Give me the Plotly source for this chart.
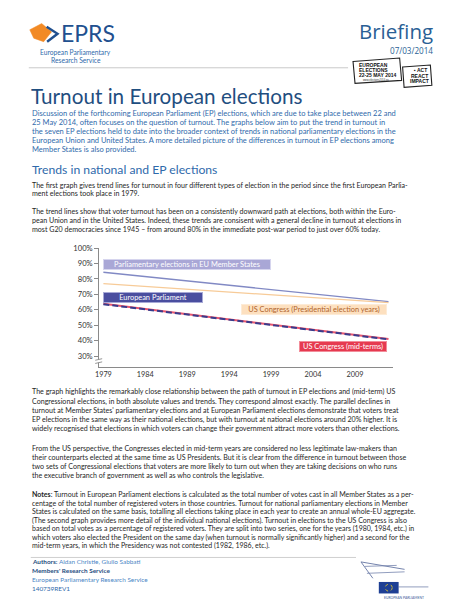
import plotly.graph_objects as go

W, H = 474, 613

# ---------------- data ----------------
years = [1979, 2013]
eu_national = [84.3, 65.2]          # Parliamentary elections in EU Member States
us_presidential = [76.9, 64.6]      # US Congress (Presidential election years)
us_midterm = [63.9, 41.0]           # US Congress (mid-terms)
ep_turnout = [63.6, 40.8]           # European Parliament
x_tick_years = [1979, 1984, 1989, 1994, 1999, 2004, 2009]
y_tick_values = [30, 40, 50, 60, 70, 80, 90, 100]
y_tick_labels = ["30%", "40%", "50%", "60%", "70%", "80%", "90%", "100%"]

series_labels = ["Parliamentary elections in EU Member States", "European Parliament",
                 "US Congress (Presidential election years)", "US Congress (mid-terms)"]

intro_lines = [
    "Discussion of the forthcoming European Parliament (EP) elections, which are due to take place between 22 and",
    "25 May 2014, often focuses on the question of turnout. The graphs below aim to put the trend in turnout in",
    "the seven EP elections held to date into the broader context of trends in national parliamentary elections in the",
    "European Union and United States. A more detailed picture of the differences in turnout in EP elections among",
    "Member States is also provided.",
]
p1_lines = [
    "The first graph gives trend lines for turnout in four different types of election in the period since the first European Parlia-",
    "ment elections took place in 1979.",
]
p2_lines = [
    "The trend lines show that voter turnout has been on a consistently downward path at elections, both within the Euro-",
    "pean Union and in the United States. Indeed, these trends are consisent with a general decline in turnout at elections in",
    "most G20 democracies since 1945 \u2013 from around 80% in the immediate post-war period to just over 60% today.",
]
p3_lines = [
    "The graph highlights the remarkably close relationship between the path of turnout in EP elections and (mid-term) US",
    "Congressional elections, in both absolute values and trends. They correspond almost exactly. The parallel declines in",
    "turnout at Member States' parliamentary elections and at European Parliament elections demonstrate that voters treat",
    "EP elections in the same way as their national elections, but with turnout at national elections around 20% higher. It is",
    "widely recognised that elections in which voters can change their government attract more voters than other elections.",
]
p4_lines = [
    "From the US perspective, the Congresses elected in mid-term years are considered no less legitimate law-makers than",
    "their counterparts elected at the same time as US Presidents. But it is clear from the difference in turnout between those",
    "two sets of Congressional elections that voters are more likely to turn out when they are taking decisions on who runs",
    "the executive branch of government as well as who controls the legislative.",
]
notes_lines = [
    "<b>Notes</b>: Turnout in European Parliament elections is calculated as the total number of votes cast in all Member States as a per-",
    "centage of the total number of registered voters in those countries. Turnout for national parliamentary elections in Member",
    "States is calculated on the same basis, totalling all elections taking place in each year to create an annual whole-EU aggregate.",
    "(The second graph provides more detail of the individual national elections). Turnout in elections to the US Congress is also",
    "based on total votes as a percentage of registered voters. They are split into two series, one for the years (1980, 1984, etc.) in",
    "which voters also elected the President on the same day (when turnout is normally significantly higher) and a second for the",
    "mid-term years, in which the Presidency was not contested (1982, 1986, etc.).",
]

# ---------------- helpers ----------------
def px(x):
    return x / W

def py(y):
    return 1 - y / H

FONT = "Lato"
BODY = "#262626"
BLUE = "#2f6aab"
NAVY = "#1f4e7f"

annotations = []
shapes = []

def text(x, y, s, size, color, anchor="left", family=FONT, yanchor="middle"):
    annotations.append(dict(x=px(x), y=py(y), xref="paper", yref="paper", text=s,
                            showarrow=False, xanchor=anchor, yanchor=yanchor, borderpad=0,
                            font=dict(family=family, size=size, color=color)))

def para(lines, y0, step, size, color):
    for i, s in enumerate(lines):
        text(27, y0 + i * step, s, size, color)

def line(x0, y0, x1, y1, color, width=1):
    shapes.append(dict(type="line", xref="paper", yref="paper", x0=px(x0), y0=py(y0),
                       x1=px(x1), y1=py(y1), line=dict(color=color, width=width), layer="above"))

def path(pts, fill, color, width=1, closed=True):
    d = "M " + " L ".join(f"{px(a):.5f},{py(b):.5f}" for a, b in pts) + (" Z" if closed else "")
    shapes.append(dict(type="path", xref="paper", yref="paper", path=d,
                       fillcolor=fill, line=dict(color=color, width=width), layer="above"))

# ---------------- figure ----------------
fig = go.Figure()
fig.add_trace(go.Scatter(x=years, y=eu_national, mode="lines", line=dict(color="#8189c4", width=1.3),
                         name=series_labels[0], hoverinfo="skip"))
fig.add_trace(go.Scatter(x=years, y=us_presidential, mode="lines", line=dict(color="#f7cb98", width=1.3),
                         name=series_labels[2], hoverinfo="skip"))
fig.add_trace(go.Scatter(x=years, y=us_midterm, mode="lines", line=dict(color="#e9566f", width=2),
                         name=series_labels[3], hoverinfo="skip"))
fig.add_trace(go.Scatter(x=years, y=ep_turnout, mode="lines",
                         line=dict(color="#383c8c", width=2, dash="6px,3px"),
                         name=series_labels[1], hoverinfo="skip"))

# series labels (boxes) in data coordinates
def box(xv, yv, s, w, bg, fg, border, anchor):
    annotations.append(dict(x=xv, y=yv, xref="x", yref="y", text=s, showarrow=False,
                            xanchor=anchor, yanchor="middle", width=w, height=8.5, align="center",
                            bgcolor=bg, bordercolor=border, borderwidth=1, borderpad=0,
                            font=dict(family=FONT, size=7.4, color=fg)))

box(1978.9, 89.1, series_labels[0], 166, "#a9a7d6", "#ffffff", "#d6d5ee", "left")
box(1979.0, 67.9, series_labels[1], 98, "#4a4e9f", "#ffffff", "#a7a9d6", "left")
box(2012.8, 60.0, series_labels[2], 144, "#fde0bf", "#b0642c", "#fdebd6", "right")
box(2012.8, 36.5, series_labels[3], 86, "#e63a50", "#ffffff", "#f28d9a", "right")

# axis break marks on y axis
shapes.append(dict(type="rect", xref="paper", yref="paper", x0=px(94), x1=px(98),
                   y0=py(360.6), y1=py(357.4), fillcolor="white", line=dict(width=0), layer="above"))
line(92, 358.2, 99, 356.6, "#8a8a8a", 0.9)
line(92, 361.4, 99, 359.8, "#8a8a8a", 0.9)

# ---------------- header ----------------
# EPRS logo
path([(26, 25), (38, 18.7), (48, 27), (40, 37), (30, 33.5)], "#f28a25", "#f28a25", 0.5)
path([(43, 22), (54, 29), (43.5, 37)], "rgba(0,0,0,0)", "#21508f", 2.4, closed=False)
text(56, 27.8, "EPRS", 23, "#21508f", family=FONT)
text(72.5, 47.0, "European Parliamentary", 6.7, "#2f6aab", anchor="center")
text(72.5, 55.5, "Research Service", 6.7, "#2f6aab", anchor="center")

text(434, 26.5, "Briefing", 20.5, "#2a5f95", anchor="right", family="Open Sans")
text(434, 46, "07/03/2014", 8.1, "#2a5f95", anchor="right", family="Open Sans")
line(25, 63.3, 347, 63.3, "#c9c9c9", 1)

# stamp
path([(352, 57), (399, 53.5), (401, 76), (354, 79)], "white", "#222222", 1.1)
text(357, 60.5, "<b>EUROPEAN</b>", 5, "#111111", family="Liberation Sans")
text(357, 65.5, "<b>ELECTIONS</b>", 5, "#111111", family="Liberation Sans")
text(357, 70.5, "<b>22-25 MAY 2014</b>", 5, "#111111", family="Liberation Sans")
text(361, 76, "www.elections2014.eu", 2.6, "#333333", family="Liberation Sans")
path([(402, 62.5), (430, 60.5), (431.5, 81), (403.5, 83)], "white", "#222222", 1.1)
text(428, 66, "<b>\u25aa ACT</b>", 5, "#111111", anchor="right", family="Liberation Sans")
text(429, 71.5, "<b>REACT</b>", 5, "#111111", anchor="right", family="Liberation Sans")
text(429.5, 77, "<b>IMPACT</b>", 5, "#111111", anchor="right", family="Liberation Sans")

# title & texts
text(26, 92, "Turnout in European elections", 20.7, NAVY)
para(intro_lines, 109.5, 9.1, 7.5, BLUE)
text(27, 166, "Trends in national and EP elections", 12.2, BLUE)
para(p1_lines, 181.7, 8.8, 7.1, BODY)
para(p2_lines, 207.7, 9.2, 7.1, BODY)
para(p3_lines, 390.0, 9.3, 7.1, BODY)
para(p4_lines, 446.7, 9.2, 7.1, BODY)
para(notes_lines, 493.3, 8.65, 7.0, BODY)

# footer
line(27, 557, 355, 557, "#cfcfcf", 1)
text(27, 561.3, "<b>Authors:</b> <span style='color:#4a86c5'>Aidan Christie, Giulio Sabbati</span>", 6.4, "#1f4e7f")
text(27, 570.2, "<b>Members' Research Service</b>", 6.4, "#1f4e7f")
text(27, 579.0, "European Parliamentary Research Service", 6.4, "#4a86c5")
text(27, 587.8, "140739REV1", 6.4, "#2f6aab")

# EP logo
line(360, 561.5, 404, 569, "#7584ad", 1)
line(360, 561.5, 372, 578, "#7584ad", 1)
line(364, 566, 396, 565, "#7584ad", 0.8)
line(366, 573, 404, 571.5, "#7584ad", 0.8)
line(398, 586.7, 428, 586.7, "#7584ad", 0.8)
shapes.append(dict(type="rect", xref="paper", yref="paper", x0=px(378), x1=px(398),
                   y0=py(593.3), y1=py(581.7), fillcolor="#1e3f94", line=dict(width=0), layer="above"))
shapes.append(dict(type="circle", xref="paper", yref="paper", x0=px(384.5), x1=px(391.5),
                   y0=py(591), y1=py(584), fillcolor="rgba(0,0,0,0)",
                   line=dict(color="#f4d21f", width=0.8, dash="dot"), layer="above"))
text(403.5, 597.7, "EUROPEAN PARLIAMENT", 3.4, "#3a5a9a", anchor="center")

fig.update_layout(
    width=W, height=H, margin=dict(l=0, r=0, t=0, b=0),
    paper_bgcolor="white", plot_bgcolor="white", showlegend=False,
    annotations=annotations, shapes=shapes,
    xaxis=dict(domain=[px(96), px(392)], range=[1978.5, 2013.5], tickvals=x_tick_years,
               showline=True, linecolor="#8a8a8a", linewidth=1, ticks="", showgrid=False,
               zeroline=False, tickfont=dict(family=FONT, size=7.3, color="#333333")),
    yaxis=dict(domain=[py(365), py(245)], range=[22.9, 100], tickvals=y_tick_values,
               ticktext=y_tick_labels, showline=True, linecolor="#8a8a8a", linewidth=1,
               ticks="outside", ticklen=4, tickcolor="#8a8a8a", showgrid=False, zeroline=False,
               tickfont=dict(family=FONT, size=7.6, color="#333333")),
)

fig.write_html("out.html", config={"displayModeBar": False},
               post_script="document.body.style.margin='0';document.body.style.overflow='hidden';")
